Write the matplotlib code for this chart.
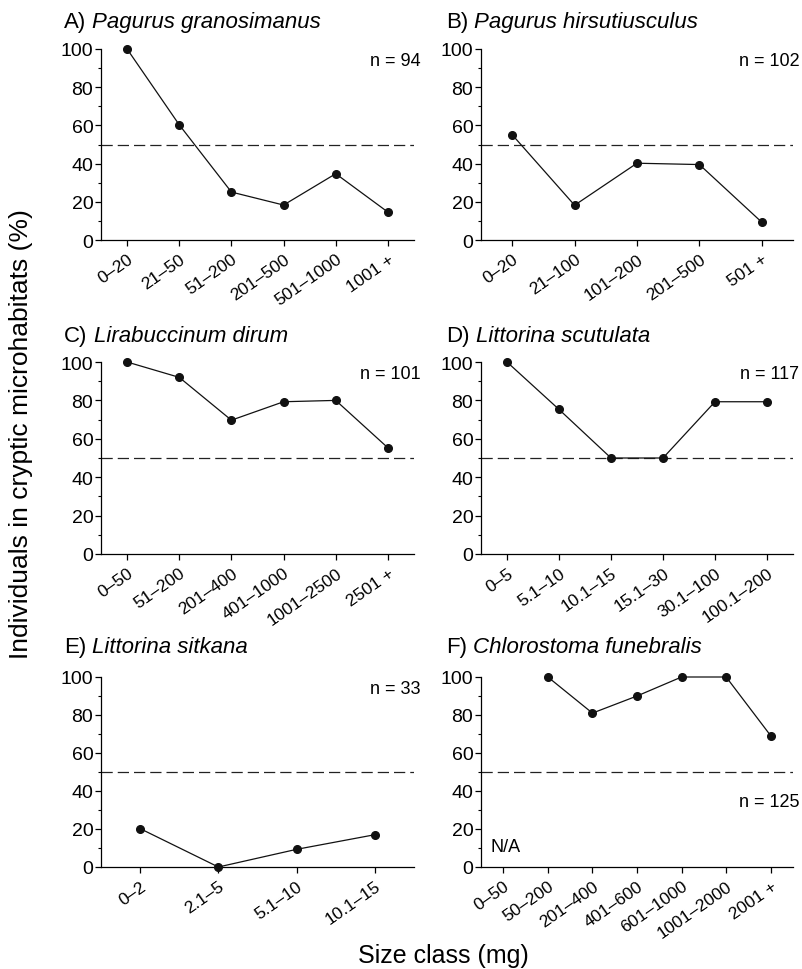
import matplotlib
matplotlib.use("Agg")
import matplotlib.pyplot as plt
from matplotlib.ticker import MultipleLocator
from matplotlib.transforms import ScaledTranslation

plt.rcParams['font.family'] = ['Liberation Sans', 'DejaVu Sans']

# ---- data ----
labels_A = ["0–20", "21–50", "51–200", "201–500", "501–1000", "1001 +"]
values_A = [100, 60.3, 25.1, 18.3, 34.7, 14.6]
labels_B = ["0–20", "21–100", "101–200", "201–500", "501 +"]
values_B = [55.1, 18.2, 40.2, 39.5, 9.3]
labels_C = ["0–50", "51–200", "201–400", "401–1000", "1001–2500", "2501 +"]
values_C = [100, 92, 69.7, 79.3, 80, 55.3]
labels_D = ["0–5", "5.1–10", "10.1–15", "15.1–30", "30.1–100", "100.1–200"]
values_D = [100, 75.3, 50, 50, 79.3, 79.3]
labels_E = ["0–2", "2.1–5", "5.1–10", "10.1–15"]
values_E = [20.2, 0, 9.3, 17]
labels_F = ["0–50", "50–200", "201–400", "401–600", "601–1000", "1001–2000", "2001 +"]
values_F = [None, 100, 81, 90, 100, 100, 69.1]

titles = ["A)", "B)", "C)", "D)", "E)", "F)"]
species = ["Pagurus granosimanus", "Pagurus hirsutiusculus", "Lirabuccinum dirum",
           "Littorina scutulata", "Littorina sitkana", "Chlorostoma funebralis"]
n_labels = ["n = 94", "n = 102", "n = 101", "n = 117", "n = 33", "n = 125"]
threshold = 50

W, H = 803, 970
fig = plt.figure(figsize=(W / 100, H / 100), dpi=100)

lefts = [101, 481]
widths = [313, 312]
rows = [(50, 241), (363, 555), (678, 868)]
title_base = [28, 342, 653]

panels = [(labels_A, values_A), (labels_B, values_B), (labels_C, values_C),
          (labels_D, values_D), (labels_E, values_E), (labels_F, values_F)]

TITLE_FS = 16
for i, (labs, vals) in enumerate(panels):
    r, c = divmod(i, 2)
    top, bot = rows[r]
    ax = fig.add_axes([lefts[c] / W, 1 - bot / H, widths[c] / W, (bot - top) / H])
    x = list(range(len(labs)))
    px = [xi for xi, v in zip(x, vals) if v is not None]
    pv = [v for v in vals if v is not None]
    ax.axhline(threshold, color='#222222', lw=0.9, dashes=(9, 4))
    ax.plot(px, pv, color='#111111', lw=0.9, marker='o', ms=5.5, clip_on=False, zorder=3)
    ax.set_xlim(-0.5, len(labs) - 0.5)
    ax.set_ylim(0, 100)
    ax.set_xticks(x)
    ax.set_xticklabels(labs, rotation=35, ha='right', va='top', rotation_mode='anchor',
                       fontsize=12.5)
    off = ScaledTranslation(4 / 72, -1 / 72, fig.dpi_scale_trans)
    for lab in ax.get_xticklabels():
        lab.set_transform(lab.get_transform() + off)
    ax.yaxis.set_major_locator(MultipleLocator(20))
    ax.yaxis.set_minor_locator(MultipleLocator(10))
    ax.tick_params(axis='y', which='major', labelsize=14, length=4, width=0.9, pad=1.5, direction='out')
    ax.tick_params(axis='y', which='minor', length=2.5, width=0.8, direction='out')
    ax.tick_params(axis='x', which='major', length=4, width=0.9, pad=4, direction='out')
    for s in ['top', 'right']:
        ax.spines[s].set_visible(False)
    for s in ['left', 'bottom']:
        ax.spines[s].set_linewidth(0.9)
    if i == 5:
        ax.text(1.02, 34.5, n_labels[i], transform=ax.get_yaxis_transform(), ha='right',
                va='center', fontsize=13)
        ax.text(0.03, 11, "N/A", transform=ax.get_yaxis_transform(), ha='left',
                va='center', fontsize=13)
    else:
        ax.text(1.02, 94, n_labels[i], transform=ax.get_yaxis_transform(), ha='right',
                va='center', fontsize=13)
    tx = (64 if c == 0 else 446) / W
    t1 = fig.text(tx, 1 - title_base[r] / H, titles[i], fontsize=TITLE_FS,
                  ha='left', va='baseline')
    fig.add_artist(plt.Annotation(species[i], xy=(1, 0), xycoords=t1, xytext=(4.5, 0),
                                  textcoords='offset points', fontsize=TITLE_FS,
                                  style='italic', ha='left', va='bottom'))

fig.text(0.026, 0.553, "Individuals in cryptic microhabitats (%)", rotation=90,
         ha='center', va='center', fontsize=19)
fig.text(0.552, 1 - 963 / H, "Size class (mg)", ha='center', va='baseline', fontsize=18)

fig.savefig("out.png", dpi=100, facecolor='white')
